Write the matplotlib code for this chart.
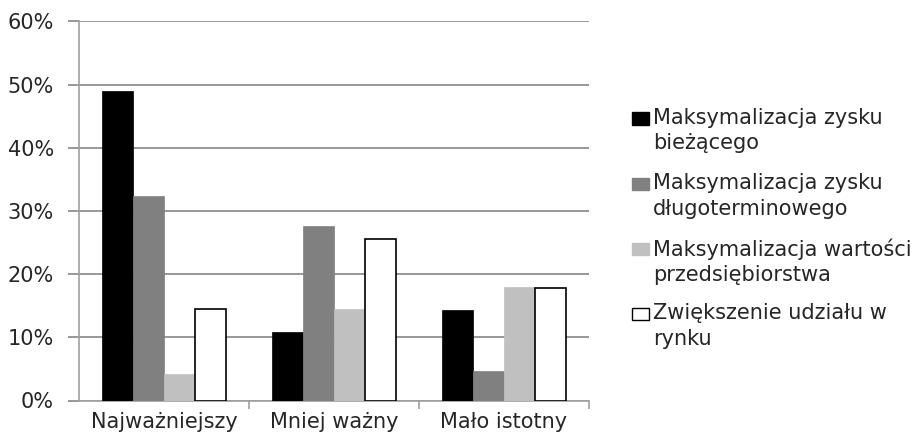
import matplotlib
matplotlib.use("Agg")
import matplotlib.pyplot as plt
from matplotlib.patches import Rectangle
import numpy as np

categories = ["Najważniejszy", "Mniej ważny", "Mało istotny"]
series_names = [
    "Maksymalizacja zysku\nbieżącego",
    "Maksymalizacja zysku\ndługoterminowego",
    "Maksymalizacja wartości\nprzedsiębiorstwa",
    "Zwiększenie udziału w\nrynku",
]
zysk_biezacy = [49.0, 10.8, 14.3]
zysk_dlugoterminowy = [32.3, 27.6, 4.7]
wartosc_przedsiebiorstwa = [4.2, 14.5, 17.9]
udzial_w_rynku = [14.4, 25.5, 17.8]
y_ticks = [0, 10, 20, 30, 40, 50, 60]
y_tick_labels = ["0%", "10%", "20%", "30%", "40%", "50%", "60%"]

series = [zysk_biezacy, zysk_dlugoterminowy, wartosc_przedsiebiorstwa, udzial_w_rynku]
faces = ["#000000", "#808080", "#C0C0C0", "#FFFFFF"]
edges = ["#000000", "#808080", "#C0C0C0", "#000000"]

W, H = 922, 437
plt.rcParams["font.family"] = ["DejaVu Sans"]
FS = 15
TXT = "#262626"

fig = plt.figure(figsize=(W / 100, H / 100), dpi=100)
ax = fig.add_axes([79 / W, 1 - 400.5 / H, (589 - 79) / W, (400.5 - 21.3) / H])

x = np.arange(len(categories))
bw = 0.182
for i, (vals, fc, ec) in enumerate(zip(series, faces, edges)):
    ax.bar(x + (i - 1.5) * bw, vals, width=bw, color=fc, edgecolor=ec,
           linewidth=1.2 if fc == "#FFFFFF" else 0.5, zorder=3)

ax.set_xlim(-0.5, 2.5)
ax.set_ylim(0, 60)
ax.set_yticks(y_ticks)
ax.set_yticklabels(y_tick_labels, fontsize=FS, color=TXT)
ax.yaxis.grid(True, color="#868686", linewidth=1.2, zorder=0)
ax.set_xticks(x)
ax.set_xticklabels(categories, fontsize=FS, color=TXT)
ax.tick_params(axis="x", length=0, pad=8)
ax.set_xticks([0.5, 1.5, 2.5], minor=True)
ax.tick_params(axis="x", which="minor", length=6, color="#A0A0A0", width=1.2, direction="out")
ax.tick_params(axis="y", length=8, color="#868686", width=1.2, pad=10)
for s in ["top", "right"]:
    ax.spines[s].set_visible(False)
ax.spines["left"].set_color("#A0A0A0")
ax.spines["left"].set_linewidth(1.2)
ax.spines["bottom"].set_color("#A0A0A0")
ax.spines["bottom"].set_linewidth(1.2)
ax.set_axisbelow(True)

# legend drawn on the figure
leg_tops = [118.5, 184, 249, 314]
for name, fc, ec, yc in zip(series_names, faces, edges, leg_tops):
    fig.patches.append(Rectangle((632 / W, 1 - (yc + 6) / H), 17 / W, 12 / H,
                                 transform=fig.transFigure, facecolor=fc,
                                 edgecolor="#000000" if fc == "#FFFFFF" else fc,
                                 linewidth=1.0))
    fig.text(653 / W, 1 - (yc - 11) / H, name, fontsize=FS, color=TXT,
             va="top", ha="left", linespacing=1.36)

fig.savefig("out.png", dpi=100)
